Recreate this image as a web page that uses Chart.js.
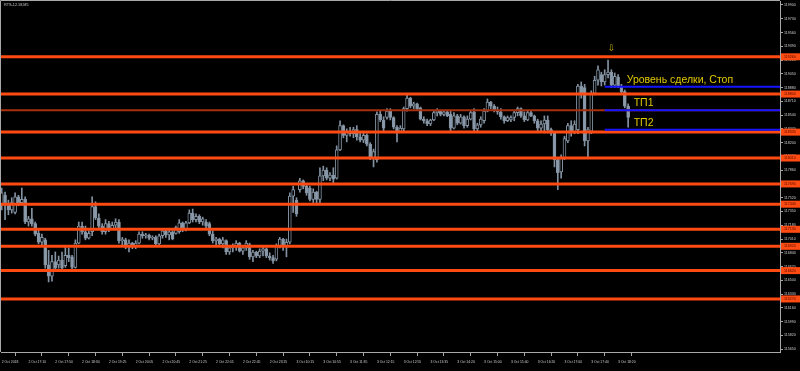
<!DOCTYPE html>
<html>
<head>
<meta charset="utf-8">
<script src="https://cdn.jsdelivr.net/npm/chart.js@4.4.1/dist/chart.umd.min.js"></script>
<style>
  html, body { margin: 0; padding: 0; background: #000; }
</style>
</head>
<body>
<canvas id="myChart" width="800" height="371"></canvas>
<script>
const symbolTitle = "RTS-12.18,M5";

// M5 candles, one per bar
const openP = [
  117430,117550,117430,117370,117340,117530,117460,117500,117220,117260,
  117200,117080,116970,117000,116690,116550,116730,116690,116750,116680,
  116810,116790,116660,116960,117170,117100,117020,117100,117410,117270,
  117170,117100,117200,117130,117180,117220,116990,117000,116920,116960,
  116920,116960,117070,117050,117060,117020,117030,116950,117050,117110,
  117060,117100,117080,117100,117210,117120,117210,117330,117250,117290,
  117220,117220,117200,117070,116990,117010,116950,116990,116850,116900,
  116920,116960,116860,116900,116940,116790,116850,116800,116860,116890,
  116800,116780,116760,116920,117010,116920,116970,117540,117490,117620,
  117730,117660,117640,117500,117590,117500,117790,117860,117760,117800,
  117760,118110,118410,118290,118340,118310,118360,118270,118230,118290,
  118180,118010,117990,118550,118480,118510,118590,118510,118390,118340,
  118370,118620,118750,118650,118680,118630,118490,118470,118430,118480,
  118570,118590,118550,118580,118550,118380,118530,118440,118520,118410,
  118490,118580,118370,118420,118470,118590,118700,118650,118600,118580,
  118520,118470,118480,118510,118570,118620,118530,118480,118570,118530,
  118470,118380,118430,118480,118360,118330,117990,117840,118010,118220,
  118410,118320,118360,118900,118880,118220,118340,118810,118970,119040,
  118950,119040,119070,118910,119010,118900,118830,118650
];
const highP = [
  117640,117590,117490,117520,117580,117550,117640,117530,117290,117390,
  117220,117130,117070,117020,116870,116810,116850,116800,116850,116910,
  116900,116810,117000,117220,117220,117170,117110,117530,117470,117320,
  117200,117250,117230,117220,117260,117250,117030,117020,117000,116970,
  116990,117100,117100,117080,117070,117050,117050,117070,117130,117130,
  117130,117110,117170,117250,117220,117230,117370,117380,117320,117310,
  117280,117250,117220,117110,117030,117020,117030,117000,116920,116950,
  116990,116970,116920,116990,116960,116870,116860,116890,116910,116900,
  116840,116810,116950,117030,117020,117010,117580,117660,117520,117760,
  117740,117690,117660,117630,117600,117890,117910,117890,117830,117890,
  118160,118470,118420,118370,118390,118390,118410,118320,118320,118310,
  118200,118120,118580,118590,118520,118620,118620,118520,118410,118410,
  118640,118790,118760,118700,118690,118640,118520,118490,118490,118590,
  118620,118600,118600,118590,118590,118570,118550,118550,118530,118530,
  118590,118620,118440,118520,118620,118740,118710,118670,118640,118620,
  118530,118530,118530,118590,118640,118630,118580,118590,118590,118540,
  118490,118470,118530,118530,118380,118340,118010,118050,118280,118440,
  118470,118470,118920,118950,118920,118390,118840,119020,119150,119070,
  119100,119220,119100,119060,119040,118920,118850,118680
];
const lowP = [
  117370,117250,117310,117330,117320,117420,117430,117200,117170,117170,
  117050,116950,116920,116650,116480,116490,116620,116650,116630,116660,
  116730,116640,116650,116950,117070,117000,117010,117050,117250,117150,
  117070,117070,117100,117130,117150,116960,116920,116890,116850,116890,
  116890,116950,117020,117020,117000,117000,116940,116920,117020,117030,
  117000,117000,117070,117080,117100,117110,117200,117220,117220,117200,
  117180,117150,117050,116960,116940,116920,116900,116820,116820,116850,
  116870,116850,116820,116870,116760,116730,116780,116780,116800,116780,
  116750,116710,116740,116900,116870,116790,116950,117340,117290,117590,
  117630,117550,117480,117460,117430,117460,117730,117740,117730,117690,
  117750,118100,118260,118210,118280,118260,118230,118210,118200,118160,
  117990,117900,117960,118460,118340,118490,118480,118370,118210,118340,
  118340,118590,118630,118620,118600,118480,118440,118410,118410,118470,
  118530,118530,118530,118520,118330,118370,118420,118430,118380,118390,
  118480,118340,118330,118390,118440,118580,118620,118580,118550,118490,
  118440,118460,118460,118470,118530,118510,118460,118470,118520,118440,
  118340,118340,118320,118320,118290,117900,117620,117760,117990,118200,
  118280,118310,118310,118750,118160,118020,118310,118790,118910,118900,
  118910,119000,118880,118880,118880,118800,118630,118390
];
const closeP = [
  117580,117430,117370,117460,117530,117460,117500,117220,117260,117200,
  117070,116970,117030,116690,116550,116730,116650,116750,116650,116810,
  116780,116660,116960,117170,117100,117020,117080,117410,117270,117170,
  117100,117200,117130,117180,117220,116990,117000,116920,116960,116920,
  116960,117070,117050,117060,117020,117030,116950,117050,117110,117060,
  117100,117010,117150,117210,117120,117210,117330,117250,117290,117220,
  117260,117170,117070,116990,117010,116950,117000,116850,116900,116920,
  116960,116860,116900,116960,116790,116850,116800,116860,116890,116800,
  116780,116740,116920,117010,116920,116970,117540,117620,117320,117730,
  117660,117580,117500,117590,117500,117790,117860,117760,117800,117750,
  118110,118410,118290,118340,118310,118360,118270,118230,118290,118180,
  118010,118090,118550,118480,118380,118590,118510,118390,118340,118380,
  118620,118750,118650,118680,118620,118490,118470,118430,118480,118570,
  118590,118550,118580,118530,118380,118530,118440,118520,118410,118490,
  118570,118370,118420,118490,118590,118700,118650,118600,118580,118520,
  118470,118510,118510,118570,118620,118530,118480,118570,118530,118470,
  118380,118430,118480,118360,118330,117990,117830,118010,118250,118410,
  118320,118430,118900,118800,118220,118360,118810,118970,119100,118950,
  119040,119070,118910,119020,118900,118830,118650,118510
];

const timeLabels = [
  "2 Oct 2018", "2 Oct 17:10", "2 Oct 17:50", "2 Oct 18:30", "2 Oct 19:25", "2 Oct 20:05",
  "2 Oct 20:45", "2 Oct 21:25", "2 Oct 22:05", "2 Oct 22:45", "2 Oct 23:25", "3 Oct 10:15",
  "3 Oct 10:55", "3 Oct 11:35", "3 Oct 12:15", "3 Oct 12:55", "3 Oct 13:35", "3 Oct 14:20",
  "3 Oct 15:00", "3 Oct 15:40", "3 Oct 16:20", "3 Oct 17:00", "3 Oct 17:40", "3 Oct 18:20"
];
const timeTickBars = [0, 8, 16, 24, 32, 40, 48, 56, 64, 72, 80, 88, 96, 104, 112, 120, 128, 136, 144, 152, 160, 168, 176, 184];

const priceTicks = [
  119900, 119730, 119560, 119390, 119220, 119050, 118880, 118710, 118540, 118370,
  118200, 118030, 117860, 117690, 117520, 117350, 117180, 117010, 116840, 116670,
  116500, 116330, 116160, 115990, 115820, 115650
];

// horizontal levels
const levelLines = [119260, 118800, 118330, 118010, 117690, 117440, 117130, 116920, 116620, 116270];
const entryLine = 118600;
const tradeLevels = [118890, 118600, 118360];
const tradeLabels = ["Уровень сделки, Стоп", "ТП1", "ТП2"];
const tradeStartBar = 180;
const signalBar = 182;
const signalPrice = 119300;

const bars = openP.map((o, i) => i);
const bullColor = "#000000";
const bearColor = "#8b9aaa";
const candleEdge = "#8392a2";

const datasets = [];

levelLines.forEach((lvl) => {
  datasets.push({
    type: "line",
    data: [{ x: -5, y: lvl }, { x: 300, y: lvl }],
    borderColor: "#ff4a12",
    borderWidth: 3,
    pointRadius: 0,
    order: 1,
  });
});

datasets.push({
  type: "line",
  data: [{ x: -5, y: entryLine }, { x: 300, y: entryLine }],
  borderColor: "#a8300e",
  borderWidth: 2,
  pointRadius: 0,
  order: 2,
});

tradeLevels.forEach((lvl) => {
  datasets.push({
    type: "line",
    data: [{ x: tradeStartBar, y: lvl }, { x: 300, y: lvl }],
    borderColor: "#1414ff",
    borderWidth: 2,
    pointRadius: 0,
    order: 0,
  });
});

datasets.push({
  type: "bar",
  data: bars.map((i) => ({ x: i, y: [lowP[i], highP[i]] })),
  backgroundColor: candleEdge,
  barThickness: 1,
  grouped: false,
  order: 4,
});

datasets.push({
  type: "bar",
  data: bars.map((i) => ({ x: i, y: [openP[i], closeP[i]] })),
  backgroundColor: bars.map((i) => (closeP[i] >= openP[i] ? bullColor : bearColor)),
  borderColor: candleEdge,
  borderWidth: 1,
  borderSkipped: false,
  barThickness: 3,
  minBarLength: 1,
  grouped: false,
  order: 3,
});

const mtPlugin = {
  id: "mtPlugin",
  beforeDraw(chart) {
    const ctx = chart.ctx;
    ctx.save();
    ctx.fillStyle = "#000";
    ctx.fillRect(0, 0, chart.width, chart.height);
    ctx.restore();
  },
  afterDraw(chart) {
    const ctx = chart.ctx;
    const area = chart.chartArea;
    const xs = chart.scales.x;
    const ys = chart.scales.y;
    ctx.save();

    // frame left / top
    ctx.strokeStyle = "#a8a8a8";
    ctx.lineWidth = 1;
    ctx.beginPath();
    ctx.moveTo(0.5, area.bottom);
    ctx.lineTo(0.5, 0.5);
    ctx.lineTo(area.right, 0.5);
    ctx.stroke();

    // price boxes on the right axis
    ctx.font = "3.6px 'Liberation Sans'";
    ctx.textBaseline = "middle";
    ctx.textAlign = "left";
    levelLines.forEach((lvl) => {
      const y = ys.getPixelForValue(lvl);
      ctx.fillStyle = "#ff4a12";
      ctx.fillRect(area.right + 1, y - 3.5, 19, 7);
      ctx.fillStyle = "#4a0e00";
      ctx.fillText(String(lvl), area.right + 4, y);
    });

    // trade labels
    ctx.font = "10.5px 'Liberation Sans'";
    ctx.fillStyle = "#e2c800";
    ctx.textBaseline = "alphabetic";
    const x0 = xs.getPixelForValue(tradeStartBar);
    tradeLabels.forEach((txt, k) => {
      const y = ys.getPixelForValue(tradeLevels[k]);
      const dx = k === 0 ? 22 : 29;
      ctx.fillText(txt, x0 + dx, y - 4);
    });

    // signal arrow
    ctx.font = "9px 'DejaVu Sans'";
    ctx.fillStyle = "#c8b400";
    ctx.textAlign = "center";
    ctx.textBaseline = "bottom";
    ctx.fillText("⇩", xs.getPixelForValue(signalBar), ys.getPixelForValue(signalPrice));

    // symbol title
    ctx.font = "3.8px 'Liberation Sans'";
    ctx.fillStyle = "#c8c8c8";
    ctx.textAlign = "left";
    ctx.textBaseline = "middle";
    ctx.fillText(symbolTitle, 4, 5);

    ctx.restore();
  },
};

const chartDOM = document.getElementById("myChart");
const myChart = new Chart(chartDOM, {
  type: "bar",
  data: { datasets: datasets },
  options: {
    responsive: false,
    animation: false,
    events: [],
    layout: { padding: { left: 1, top: 1, right: 0, bottom: 0 } },
    plugins: {
      legend: { display: false },
      tooltip: { enabled: false },
    },
    scales: {
      x: {
        type: "linear",
        min: -0.21,
        max: 232.33,
        offset: false,
        grid: { drawOnChartArea: false, drawTicks: true, tickLength: 4, color: "#a8a8a8" },
        border: { color: "#a8a8a8" },
        afterBuildTicks: (scale) => {
          scale.ticks = timeTickBars.map((v) => ({ value: v }));
        },
        afterFit: (scale) => {
          scale.height = 19;
          scale.paddingLeft = 0;
          scale.paddingRight = 0;
        },
        ticks: {
          autoSkip: false,
          maxRotation: 0,
          align: "start",
          padding: 4,
          color: "#cfcfcf",
          font: { size: 3.4, family: "'Liberation Sans'" },
          callback: function (value, index) {
            return timeLabels[index];
          },
        },
      },
      y: {
        type: "linear",
        position: "right",
        min: 115615,
        max: 119949,
        grid: { drawOnChartArea: false, drawTicks: true, tickLength: 3, color: "#a8a8a8" },
        border: { color: "#a8a8a8" },
        afterBuildTicks: (scale) => {
          scale.ticks = priceTicks.map((v) => ({ value: v }));
        },
        afterFit: (scale) => {
          scale.width = 20;
          scale.paddingTop = 0;
          scale.paddingBottom = 0;
        },
        ticks: {
          padding: 1,
          color: "#cfcfcf",
          font: { size: 3.6, family: "'Liberation Sans'" },
          callback: function (value) {
            return String(value);
          },
        },
      },
    },
  },
  plugins: [mtPlugin],
});
</script>
</body>
</html>
